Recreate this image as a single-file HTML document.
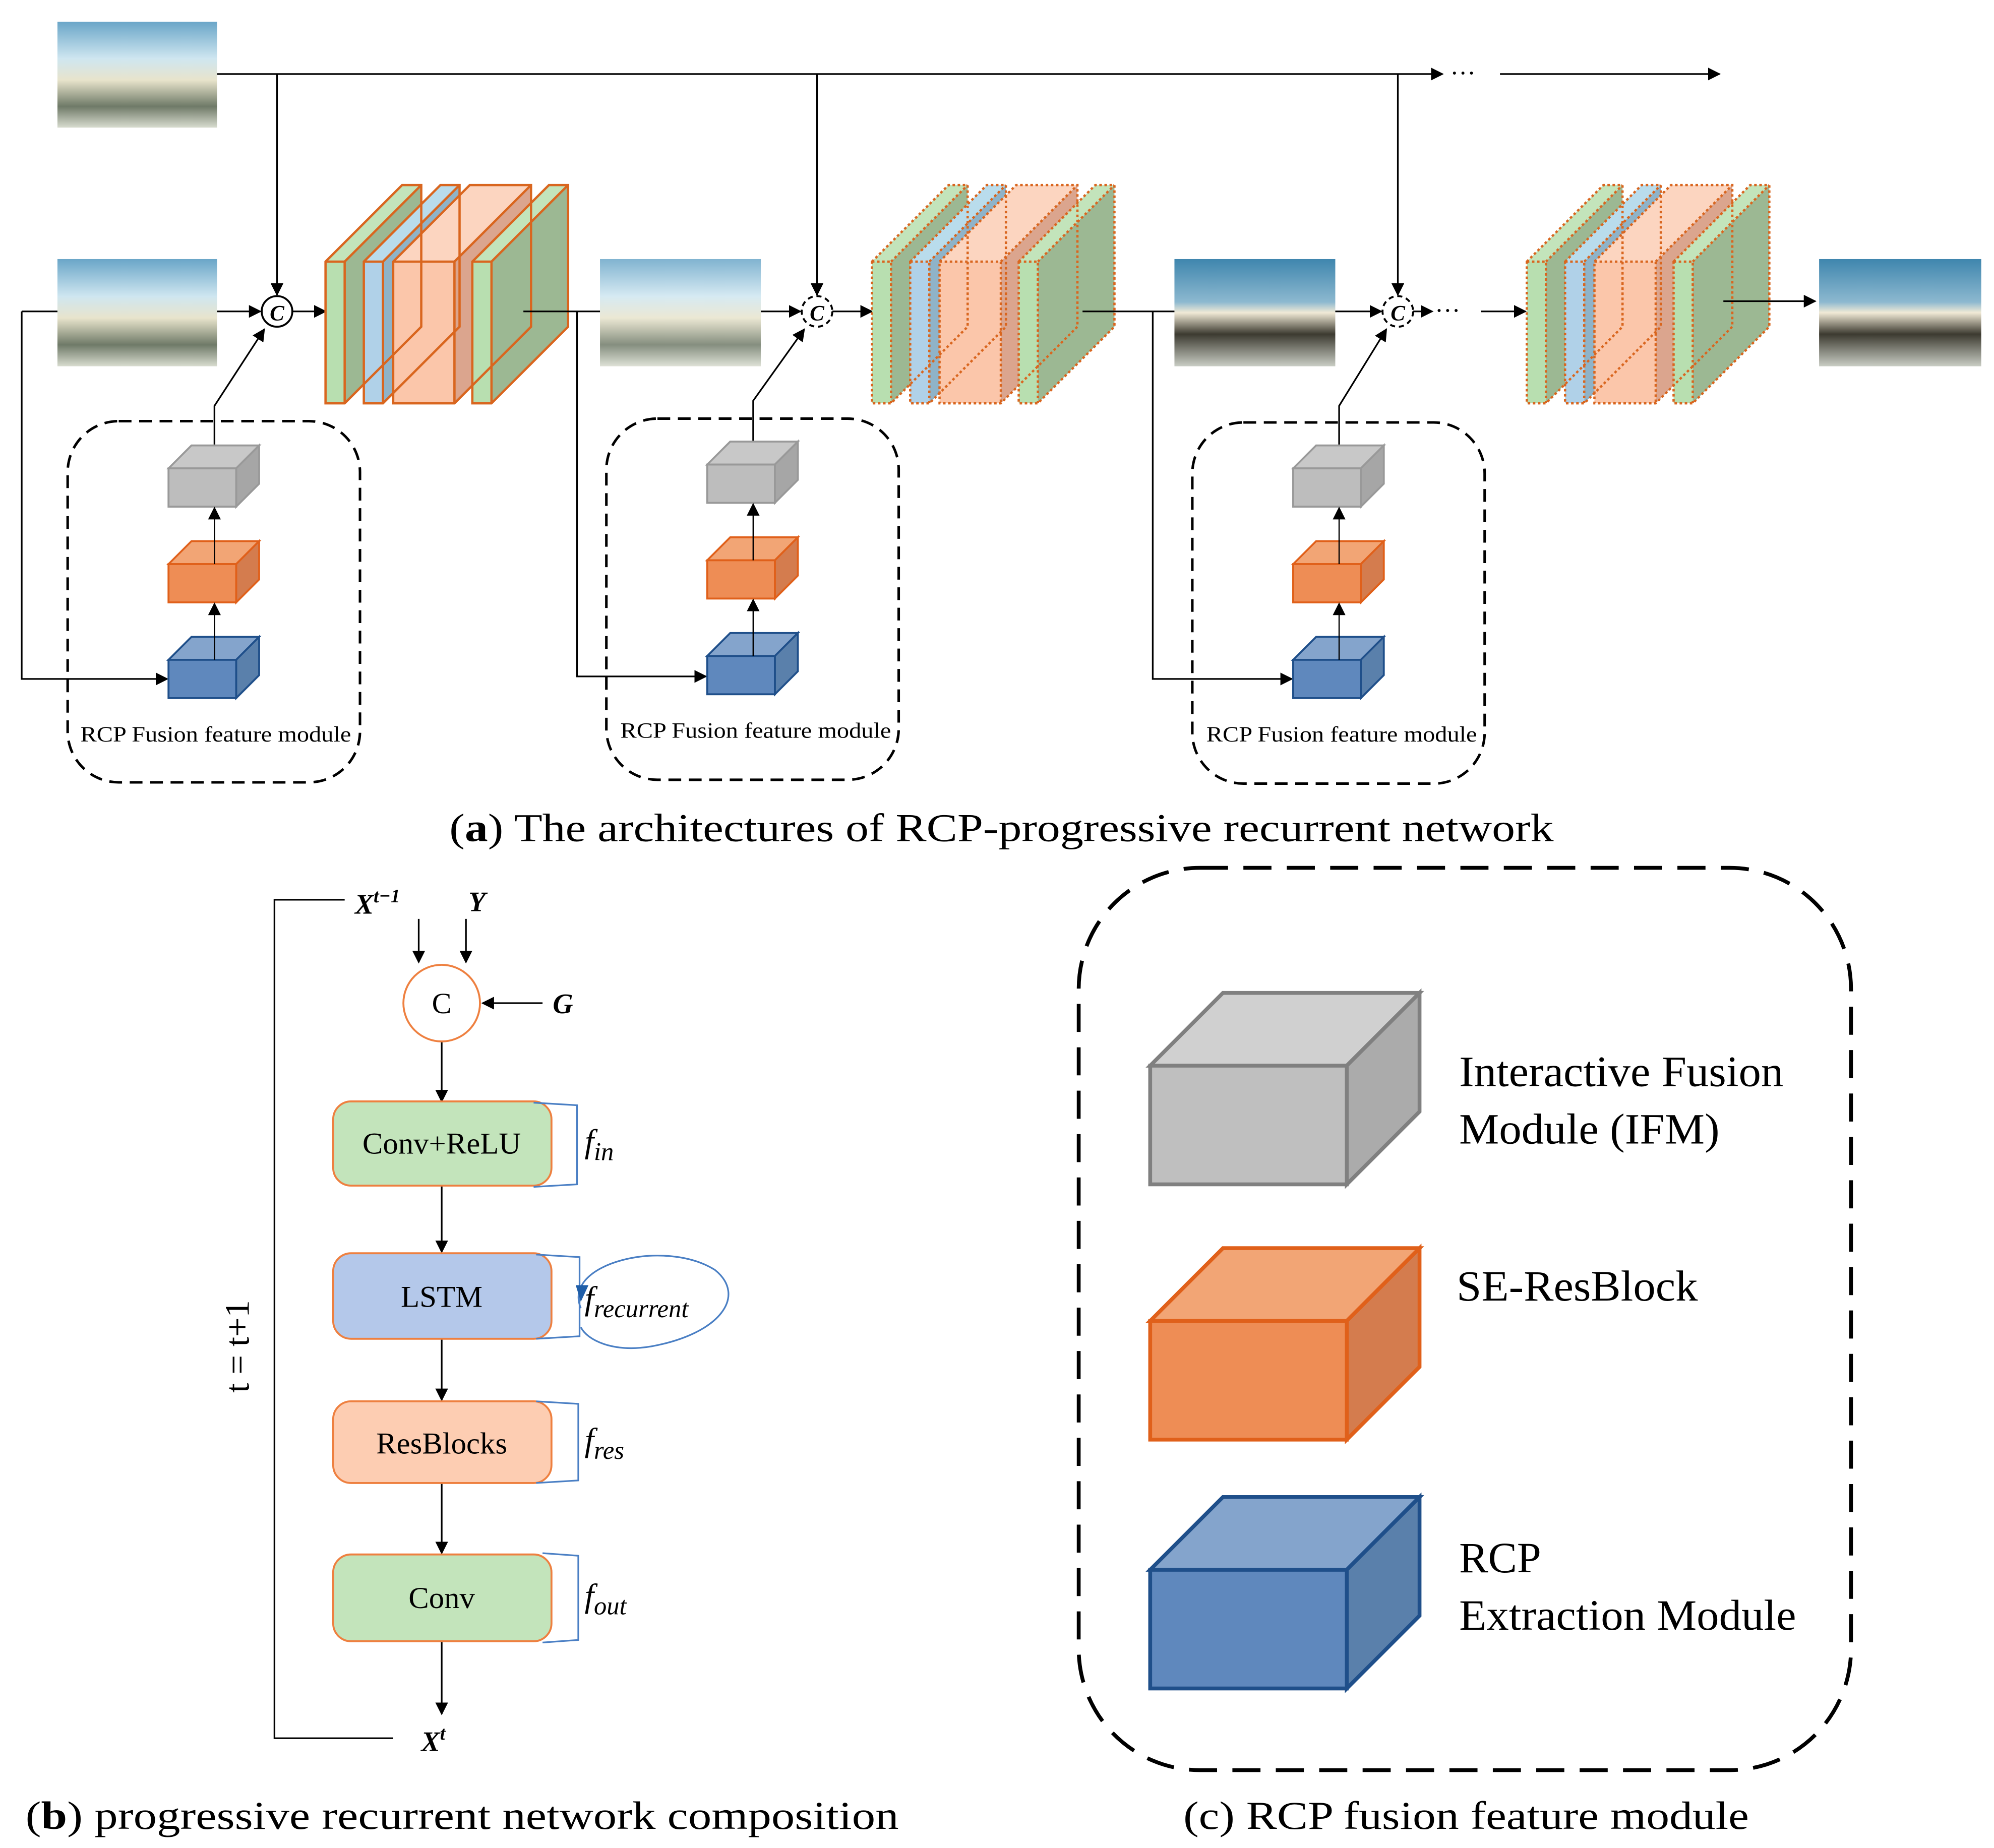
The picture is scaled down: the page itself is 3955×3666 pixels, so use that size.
<!DOCTYPE html>
<html><head><meta charset="utf-8"><style>html,body{margin:0;padding:0;background:#fff}svg{display:block}</style></head><body>
<svg width="3955" height="3666" viewBox="0 0 1562 1448" preserveAspectRatio="none" xmlns="http://www.w3.org/2000/svg" font-family="Liberation Serif, serif">
<defs>
<marker id="a" markerWidth="10" markerHeight="10" refX="9" refY="5" orient="auto" markerUnits="userSpaceOnUse"><path d="M0,0 L10,5 L0,10 Z" fill="#000"/></marker>
<linearGradient id="rain" x1="0" y1="0" x2="0" y2="1"><stop offset="0" stop-color="#6aa6c8"/><stop offset="0.35" stop-color="#cfe6f0"/><stop offset="0.55" stop-color="#e8e4cc"/><stop offset="0.8" stop-color="#6f7a68"/><stop offset="1" stop-color="#d8dccf"/></linearGradient>
<linearGradient id="clear" x1="0" y1="0" x2="0" y2="1"><stop offset="0" stop-color="#3f86ae"/><stop offset="0.4" stop-color="#8cb8cf"/><stop offset="0.5" stop-color="#f1ead6"/><stop offset="0.7" stop-color="#3c3a30"/><stop offset="1" stop-color="#c9cdc4"/></linearGradient>
<g id="stack">
  <polygon points="0,60 60,0 75,0 15,60" fill="#c3e4bb"/><polygon points="15,60 75,0 75,111 15,171" fill="#9cb893"/><rect x="0" y="60" width="15" height="111" fill="#b8dfb0"/>
  <polygon points="30,60 90,0 105,0 45,60" fill="#b9dcec"/><polygon points="45,60 105,0 105,111 45,171" fill="#8fb3c8"/><rect x="30" y="60" width="15" height="111" fill="#b0d1e8"/>
  <polygon points="53,60 113,0 161,0 101,60" fill="#fcd5c0"/><polygon points="101,60 161,0 161,111 101,171" fill="#dba58e"/><rect x="53" y="60" width="48" height="111" fill="#fbc6aa"/>
  <polygon points="115,60 175,0 190,0 130,60" fill="#c3e4bb"/><polygon points="130,60 190,0 190,111 130,171" fill="#9cb893"/><rect x="115" y="60" width="15" height="111" fill="#b8dfb0"/>
</g>
<g id="cubes">
 <polygon points="0,0 18,-18 71,-18 53,0" fill="#c8c8c8" stroke="#999" stroke-width="1.5"/><polygon points="53,0 71,-18 71,12 53,30" fill="#a6a6a6" stroke="#999" stroke-width="1.5"/><rect x="0" y="0" width="53" height="30" fill="#bdbdbd" stroke="#999" stroke-width="1.5"/>
 <polygon points="0,75 18,57 71,57 53,75" fill="#f2a575" stroke="#e0601a" stroke-width="1.5"/><polygon points="53,75 71,57 71,87 53,105" fill="#d47c4e" stroke="#e0601a" stroke-width="1.5"/><rect x="0" y="75" width="53" height="30" fill="#ee8d55" stroke="#e0601a" stroke-width="1.5"/>
 <polygon points="0,150 18,132 71,132 53,150" fill="#84a4cc" stroke="#1f4f8a" stroke-width="1.5"/><polygon points="53,150 71,132 71,162 53,180" fill="#5a80ab" stroke="#1f4f8a" stroke-width="1.5"/><rect x="0" y="150" width="53" height="30" fill="#5f88bd" stroke="#1f4f8a" stroke-width="1.5"/>
 <line x1="36" y1="150" x2="36" y2="106" stroke="#000" marker-end="url(#a)"/>
 <line x1="36" y1="75" x2="36" y2="31" stroke="#000" marker-end="url(#a)"/>
</g>
<g id="outl"><path d="M0,60 L60,0 L75,0 L75,111 L15,171 L0,171 Z M15,60 L75,0 M0,60 L15,60 L15,171"/><path d="M30,60 L90,0 L105,0 L105,111 L45,171 L30,171 Z M45,60 L105,0 M30,60 L45,60 L45,171"/><path d="M53,60 L113,0 L161,0 L161,111 L101,171 L53,171 Z M101,60 L161,0 M53,60 L101,60 L101,171"/><path d="M115,60 L175,0 L190,0 L190,111 L130,171 L115,171 Z M130,60 L190,0 M115,60 L130,60 L130,171"/></g>
</defs>

<rect x="45" y="17" width="125" height="83" fill="url(#rain)"/>
<rect x="45" y="203" width="125" height="84" fill="url(#rain)"/>
<rect x="470" y="203" width="126" height="84" fill="url(#rain)" opacity="0.85"/>
<rect x="920" y="203" width="126" height="84" fill="url(#clear)"/>
<rect x="1425" y="203" width="127" height="84" fill="url(#clear)"/>

<g stroke="#000" stroke-width="1.3" fill="none">
<line x1="170" y1="58" x2="1130" y2="58" marker-end="url(#a)"/>
<line x1="1175" y1="58" x2="1347" y2="58" marker-end="url(#a)"/>
<line x1="217" y1="58" x2="217" y2="231" marker-end="url(#a)"/>
<line x1="640" y1="58" x2="640" y2="231" marker-end="url(#a)"/>
<line x1="1095" y1="58" x2="1095" y2="231" marker-end="url(#a)"/>
<line x1="17" y1="244" x2="45" y2="244"/>
<line x1="170" y1="244" x2="204" y2="244" marker-end="url(#a)"/>
<line x1="229" y1="244" x2="255" y2="244" marker-end="url(#a)"/>
<line x1="596" y1="244" x2="627" y2="244" marker-end="url(#a)"/>
<line x1="652" y1="244" x2="683" y2="244" marker-end="url(#a)"/>
<line x1="1046" y1="244" x2="1082" y2="244" marker-end="url(#a)"/>
<line x1="1107" y1="244" x2="1122" y2="244" marker-end="url(#a)"/>
<line x1="1160" y1="244" x2="1195" y2="244" marker-end="url(#a)"/>
<polyline points="17,244 17,532 131,532" marker-end="url(#a)"/>
<polyline points="452,244 452,530 553,530" marker-end="url(#a)"/>
<polyline points="903,244 903,532 1012,532" marker-end="url(#a)"/>
<polyline points="168,350 168,318 207,258" marker-end="url(#a)"/>
<polyline points="590,347 590,314 630,258" marker-end="url(#a)"/>
<polyline points="1049,350 1049,318 1086,258" marker-end="url(#a)"/>
</g>
<text x="1136" y="64" font-size="20">···</text>
<text x="1124" y="250" font-size="20">···</text>

<circle cx="217" cy="244" r="12" fill="#fff" stroke="#000" stroke-width="1.5"/>
<text x="217" y="251" font-size="17" font-style="italic" font-weight="bold" text-anchor="middle">C</text>
<circle cx="640" cy="244" r="12" fill="#fff" stroke="#000" stroke-width="1.5" stroke-dasharray="4,3"/>
<text x="640" y="251" font-size="17" font-style="italic" font-weight="bold" text-anchor="middle">C</text>
<circle cx="1095" cy="244" r="12" fill="#fff" stroke="#000" stroke-width="1.5" stroke-dasharray="4,3"/>
<text x="1095" y="251" font-size="17" font-style="italic" font-weight="bold" text-anchor="middle">C</text>

<g transform="translate(255,145)"><use href="#stack"/><g fill="none" stroke="#d9661f" stroke-width="1.8"><use href="#outl"/></g></g>
<g transform="translate(683,145)"><use href="#stack"/><g fill="none" stroke="#d9661f" stroke-width="1.8" stroke-dasharray="2,2"><use href="#outl"/></g></g>
<g transform="translate(1196,145)"><use href="#stack"/><g fill="none" stroke="#d9661f" stroke-width="1.8" stroke-dasharray="2,2"><use href="#outl"/></g></g>
<line x1="410" y1="244" x2="470" y2="244" stroke="#000" stroke-width="1.3"/>
<line x1="848" y1="244" x2="920" y2="244" stroke="#000" stroke-width="1.3"/>
<line x1="1350" y1="236" x2="1422" y2="236" stroke="#000" stroke-width="1.3" marker-end="url(#a)"/>

<g fill="none" stroke="#000" stroke-width="2" stroke-dasharray="10,6">
<rect x="53" y="330" width="229" height="283" rx="40"/>
<rect x="475" y="328" width="229" height="283" rx="40"/>
<rect x="934" y="331" width="229" height="283" rx="40"/>
</g>
<use href="#cubes" transform="translate(132,367)"/>
<use href="#cubes" transform="translate(554,364)"/>
<use href="#cubes" transform="translate(1013,367)"/>
<g font-size="17"><text x="63" y="581" textLength="212" lengthAdjust="spacingAndGlyphs">RCP Fusion feature module</text><text x="486" y="578" textLength="212" lengthAdjust="spacingAndGlyphs">RCP Fusion feature module</text><text x="945" y="581" textLength="212" lengthAdjust="spacingAndGlyphs">RCP Fusion feature module</text></g>
<text x="352" y="659" font-size="31" textLength="865" lengthAdjust="spacingAndGlyphs">(<tspan font-weight="bold">a</tspan>) The architectures of RCP-progressive recurrent network</text>

<g stroke="#000" stroke-width="1.3" fill="none">
<polyline points="270,705 215,705 215,1362 308,1362"/>
<line x1="328" y1="720" x2="328" y2="754" marker-end="url(#a)"/>
<line x1="365" y1="720" x2="365" y2="754" marker-end="url(#a)"/>
<line x1="425" y1="786" x2="378" y2="786" marker-end="url(#a)"/>
<line x1="346" y1="816" x2="346" y2="863" marker-end="url(#a)"/>
<line x1="346" y1="929" x2="346" y2="981" marker-end="url(#a)"/>
<line x1="346" y1="1049" x2="346" y2="1097" marker-end="url(#a)"/>
<line x1="346" y1="1162" x2="346" y2="1217" marker-end="url(#a)"/>
<line x1="346" y1="1286" x2="346" y2="1343" marker-end="url(#a)"/>
</g>
<text x="278" y="716" font-size="22" font-weight="bold" font-style="italic">X<tspan font-size="15" dy="-9">t−1</tspan></text>
<text x="367" y="714" font-size="22" font-weight="bold" font-style="italic">Y</text>
<text x="433" y="794" font-size="22" font-weight="bold" font-style="italic">G</text>
<circle cx="346" cy="786" r="30" fill="#fff" stroke="#ee8040" stroke-width="1.5"/>
<text x="346" y="794" font-size="23" text-anchor="middle">C</text>
<g stroke="#ee8040" stroke-width="1.5">
<rect x="261" y="863" width="171" height="66" rx="14" fill="#c3e4bb"/>
<rect x="261" y="982" width="171" height="67" rx="14" fill="#b4c8ea"/>
<rect x="261" y="1098" width="171" height="64" rx="14" fill="#fdcdb2"/>
<rect x="261" y="1218" width="171" height="68" rx="14" fill="#c3e4bb"/>
</g>
<g font-size="24" text-anchor="middle"><text x="346" y="904">Conv+ReLU</text><text x="346" y="1024">LSTM</text><text x="346" y="1139">ResBlocks</text><text x="346" y="1260">Conv</text></g>
<g fill="none" stroke="#4a7fc4" stroke-width="1.3">
<path d="M418,864 L452,866 L452,928 L418,930"/>
<path d="M420,983 L454,985 L454,1047 L420,1049"/>
<path d="M420,1098 L453,1100 L453,1160 L420,1162"/>
<path d="M425,1217 L453,1219 L453,1285 L425,1287"/>
<path d="M455,1025 C440,990 520,970 560,995 C585,1015 565,1045 510,1055 C480,1060 460,1050 455,1040"/>
</g>
<polygon points="451,1007 461,1007 455,1020" fill="#1f5ea8"/>
<g font-size="26" font-style="italic">
<text x="458" y="903">f<tspan font-size="20" dy="6">in</tspan></text>
<text x="458" y="1026">f<tspan font-size="20" dy="6">recurrent</tspan></text>
<text x="458" y="1137">f<tspan font-size="20" dy="6">res</tspan></text>
<text x="458" y="1259">f<tspan font-size="20" dy="6">out</tspan></text>
</g>
<text x="330" y="1372" font-size="22" font-weight="bold" font-style="italic">X<tspan font-size="15" dy="-9">t</tspan></text>
<text transform="translate(195,1055) rotate(-90)" font-size="27" text-anchor="middle">t = t+1</text>
<text x="20" y="1433" font-size="31" textLength="684" lengthAdjust="spacingAndGlyphs">(<tspan font-weight="bold">b</tspan>) progressive recurrent network composition</text>

<rect x="845" y="680" width="605" height="707" rx="95" fill="none" stroke="#000" stroke-width="3" stroke-dasharray="22,12"/>
<g stroke-width="3">
<polygon points="901,835 958,778 1112,778 1055,835" fill="#d0d0d0" stroke="#808080"/>
<polygon points="1055,835 1112,778 1112,871 1055,928" fill="#ababab" stroke="#808080"/>
<rect x="901" y="835" width="154" height="93" fill="#bfbfbf" stroke="#808080"/>
<polygon points="901,1035 958,978 1112,978 1055,1035" fill="#f2a575" stroke="#e0601a"/>
<polygon points="1055,1035 1112,978 1112,1071 1055,1128" fill="#d47c4e" stroke="#e0601a"/>
<rect x="901" y="1035" width="154" height="93" fill="#ee8d55" stroke="#e0601a"/>
<polygon points="901,1230 958,1173 1112,1173 1055,1230" fill="#84a4cc" stroke="#1f4f8a"/>
<polygon points="1055,1230 1112,1173 1112,1266 1055,1323" fill="#5a80ab" stroke="#1f4f8a"/>
<rect x="901" y="1230" width="154" height="93" fill="#5f88bd" stroke="#1f4f8a"/>
</g>
<g font-size="34"><text x="1143" y="851" textLength="254" lengthAdjust="spacingAndGlyphs">Interactive Fusion</text><text x="1143" y="896" textLength="204" lengthAdjust="spacingAndGlyphs">Module (IFM)</text><text x="1141" y="1019" textLength="189" lengthAdjust="spacingAndGlyphs">SE-ResBlock</text><text x="1143" y="1232">RCP</text><text x="1143" y="1277" textLength="264" lengthAdjust="spacingAndGlyphs">Extraction Module</text></g>
<text x="927" y="1433" font-size="31" textLength="443" lengthAdjust="spacingAndGlyphs">(c) RCP fusion feature module</text>
</svg>
</body></html>
